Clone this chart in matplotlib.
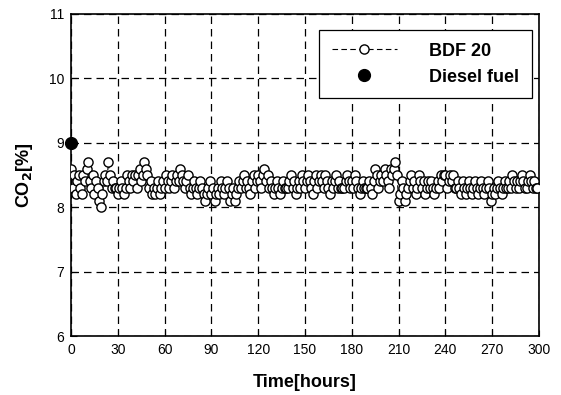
import matplotlib
matplotlib.use("Agg")
import matplotlib.pyplot as plt
import numpy as np

plt.rcParams['font.family'] = ['Liberation Sans', 'DejaVu Sans']

hours = list(range(0, 300))
bdf20 = [
    8.6, 8.3, 8.5, 8.2, 8.4, 8.5, 8.3, 8.2, 8.5, 8.4,
    8.6, 8.7, 8.4, 8.3, 8.5, 8.2, 8.4, 8.3, 8.1, 8.0,
    8.2, 8.4, 8.5, 8.4, 8.7, 8.5, 8.3, 8.4, 8.3, 8.3,
    8.2, 8.3, 8.4, 8.3, 8.2, 8.3, 8.5, 8.4, 8.3, 8.5,
    8.4, 8.5, 8.3, 8.5, 8.6, 8.4, 8.5, 8.7, 8.6, 8.5,
    8.3, 8.4, 8.2, 8.3, 8.2, 8.3, 8.4, 8.2, 8.3, 8.4,
    8.3, 8.5, 8.4, 8.3, 8.4, 8.5, 8.3, 8.4, 8.5, 8.4,
    8.6, 8.5, 8.4, 8.3, 8.4, 8.5, 8.3, 8.2, 8.3, 8.4,
    8.3, 8.2, 8.3, 8.4, 8.3, 8.2, 8.1, 8.2, 8.3, 8.4,
    8.2, 8.3, 8.1, 8.2, 8.3, 8.2, 8.4, 8.3, 8.2, 8.3,
    8.4, 8.3, 8.1, 8.2, 8.3, 8.1, 8.2, 8.3, 8.4, 8.3,
    8.4, 8.5, 8.3, 8.4, 8.3, 8.2, 8.4, 8.5, 8.3, 8.4,
    8.5, 8.4, 8.3, 8.5, 8.6, 8.4, 8.5, 8.3, 8.4, 8.3,
    8.2, 8.3, 8.4, 8.3, 8.2, 8.3, 8.4, 8.3, 8.3, 8.3,
    8.4, 8.5, 8.3, 8.4, 8.2, 8.3, 8.4, 8.3, 8.5, 8.4,
    8.3, 8.4, 8.5, 8.4, 8.3, 8.2, 8.4, 8.5, 8.3, 8.4,
    8.5, 8.4, 8.3, 8.5, 8.4, 8.3, 8.2, 8.4, 8.3, 8.4,
    8.5, 8.3, 8.4, 8.3, 8.3, 8.3, 8.4, 8.5, 8.4, 8.3,
    8.4, 8.3, 8.5, 8.4, 8.3, 8.2, 8.3, 8.4, 8.3, 8.3,
    8.3, 8.4, 8.3, 8.2, 8.4, 8.6, 8.5, 8.3, 8.4, 8.5,
    8.4, 8.6, 8.5, 8.4, 8.3, 8.6, 8.5, 8.6, 8.7, 8.5,
    8.1, 8.2, 8.4, 8.3, 8.1, 8.2, 8.3, 8.4, 8.5, 8.3,
    8.4, 8.2, 8.3, 8.5, 8.4, 8.3, 8.4, 8.2, 8.3, 8.4,
    8.3, 8.4, 8.3, 8.2, 8.3, 8.4, 8.3, 8.5, 8.4, 8.5,
    8.5, 8.3, 8.4, 8.5, 8.4, 8.5, 8.3, 8.3, 8.4, 8.3,
    8.2, 8.4, 8.3, 8.2, 8.3, 8.4, 8.3, 8.2, 8.3, 8.4,
    8.3, 8.2, 8.3, 8.4, 8.3, 8.2, 8.3, 8.4, 8.3, 8.1,
    8.2, 8.3, 8.2, 8.3, 8.4, 8.3, 8.2, 8.3, 8.4, 8.3,
    8.3, 8.4, 8.3, 8.5, 8.4, 8.3, 8.4, 8.3, 8.4, 8.5,
    8.4, 8.3, 8.3, 8.4, 8.5, 8.4, 8.3, 8.4, 8.3, 8.3,
]
diesel_x = [0]
diesel_y = [9.0]

x_ticks = [0, 30, 60, 90, 120, 150, 180, 210, 240, 270, 300]
y_ticks = [6, 7, 8, 9, 10, 11]

fig = plt.figure(figsize=(5.61, 3.95), dpi=100)
ax = fig.add_axes([71/561, 1-336/395, (539-71)/561, (336-14)/395])

ax.set_xlim(0, 300)
ax.set_ylim(6, 11)
ax.set_xticks(x_ticks)
ax.set_yticks(y_ticks)
ax.grid(True, color='black', linestyle=(0, (6, 4)), linewidth=0.9)
ax.set_axisbelow(True)

ax.plot(hours, bdf20, linestyle=(0, (5, 3)), color='black', linewidth=0.8,
        marker='o', markersize=6.6, markerfacecolor='white',
        markeredgecolor='black', markeredgewidth=1.0, label='BDF 20', zorder=3)
ax.plot(diesel_x, diesel_y, linestyle='none', marker='o', markersize=8.5,
        color='black', label='Diesel fuel', clip_on=False, zorder=4)

ax.tick_params(direction='in', length=4, width=0.8, labelsize=10, pad=5)
for s in ax.spines.values():
    s.set_linewidth(1.2)

ax.set_xlabel('Time[hours]', fontsize=13, fontweight='bold', labelpad=12)
ax.set_ylabel('CO$_\\mathbf{2}$[%]', fontsize=13, fontweight='bold', labelpad=10)

leg = ax.legend(loc='upper right', bbox_to_anchor=((532-71)/468, 1-(30-14)/322),
                frameon=True, fancybox=False, edgecolor='black', framealpha=1,
                prop={'weight': 'bold', 'size': 13}, handlelength=3.6,
                borderpad=0.7, labelspacing=0.5, handletextpad=1.8,
                borderaxespad=0)
leg.get_frame().set_linewidth(0.9)

fig.savefig('out.png', dpi=100)
